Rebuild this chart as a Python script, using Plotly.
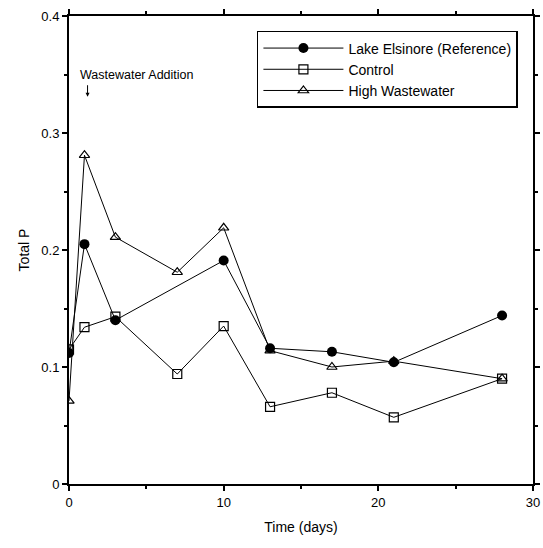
import plotly.graph_objects as go

days_lake = [0, 1, 3, 10, 13, 17, 21, 28]
lake = [0.112, 0.205, 0.140, 0.191, 0.116, 0.113, 0.104, 0.144]

days_ctrl = [0, 1, 3, 7, 10, 13, 17, 21, 28]
control = [0.115, 0.134, 0.143, 0.094, 0.135, 0.066, 0.078, 0.057, 0.090]

days_high = [0, 1, 3, 7, 10, 13, 17, 21, 28]
high = [0.071, 0.281, 0.211, 0.181, 0.219, 0.114, 0.100, 0.105, 0.090]

fig = go.Figure()
fig.add_trace(go.Scatter(x=days_lake, y=lake, mode="lines+markers", name="Lake Elsinore (Reference)",
                         line=dict(color="black", width=1),
                         marker=dict(symbol="circle", size=10, color="black")))
fig.add_trace(go.Scatter(x=days_ctrl, y=control, mode="lines+markers", name="Control",
                         line=dict(color="black", width=1),
                         marker=dict(symbol="square-open", size=9, color="black", line=dict(width=1.2))))
fig.add_trace(go.Scatter(x=days_high, y=high, mode="lines+markers", name="High Wastewater",
                         line=dict(color="black", width=1),
                         marker=dict(symbol="triangle-up-open", size=9, color="black", line=dict(width=1.2))))

fig.add_annotation(x=1.2, y=0.331, ax=0, ay=-13, axref="pixel", ayref="pixel",
                   xref="x", yref="y", text="", showarrow=True, arrowhead=2,
                   arrowsize=0.8, arrowwidth=1, arrowcolor="black")
fig.add_annotation(x=0.6, y=0.350, xref="x", yref="y", text="Wastewater Addition",
                   showarrow=False, xanchor="left", yanchor="middle",
                   font=dict(family="Arial", size=12.5, color="black"))

axis_common = dict(showline=True, linecolor="black", linewidth=2, mirror="ticks",
                   ticks="outside", ticklen=5, tickcolor="black", tickwidth=1.5,
                   showgrid=False, zeroline=False,
                   tickfont=dict(family="Arial", size=13, color="black"))

fig.update_xaxes(range=[0, 30], tickvals=[0, 10, 20, 30], ticktext=["0", "10", "20", "30"],
                 minor=dict(tickvals=[5, 15, 25], ticks="outside", ticklen=3, tickcolor="black"),
                 title=dict(text="Time (days)", font=dict(family="Arial", size=14, color="black"), standoff=14),
                 **axis_common)
fig.update_yaxes(range=[0, 0.4], tickvals=[0, 0.1, 0.2, 0.3, 0.4], ticktext=["0", "0.1", "0.2", "0.3", "0.4"],
                 minor=dict(tickvals=[0.05, 0.15, 0.25, 0.35], ticks="outside", ticklen=3, tickcolor="black"),
                 title=dict(text="Total P", font=dict(family="Arial", size=14, color="black"), standoff=8),
                 **axis_common)

fig.update_layout(width=543, height=548, margin=dict(l=69, r=3, t=16, b=64),
                  plot_bgcolor="white", paper_bgcolor="white", showlegend=True,
                  legend=dict(x=0.405, y=0.968, xanchor="left", yanchor="top",
                              bordercolor="black", borderwidth=1.5, bgcolor="white",
                              font=dict(family="Arial", size=14, color="black"),
                              tracegroupgap=0, itemwidth=80))

fig.write_html("out.html")
